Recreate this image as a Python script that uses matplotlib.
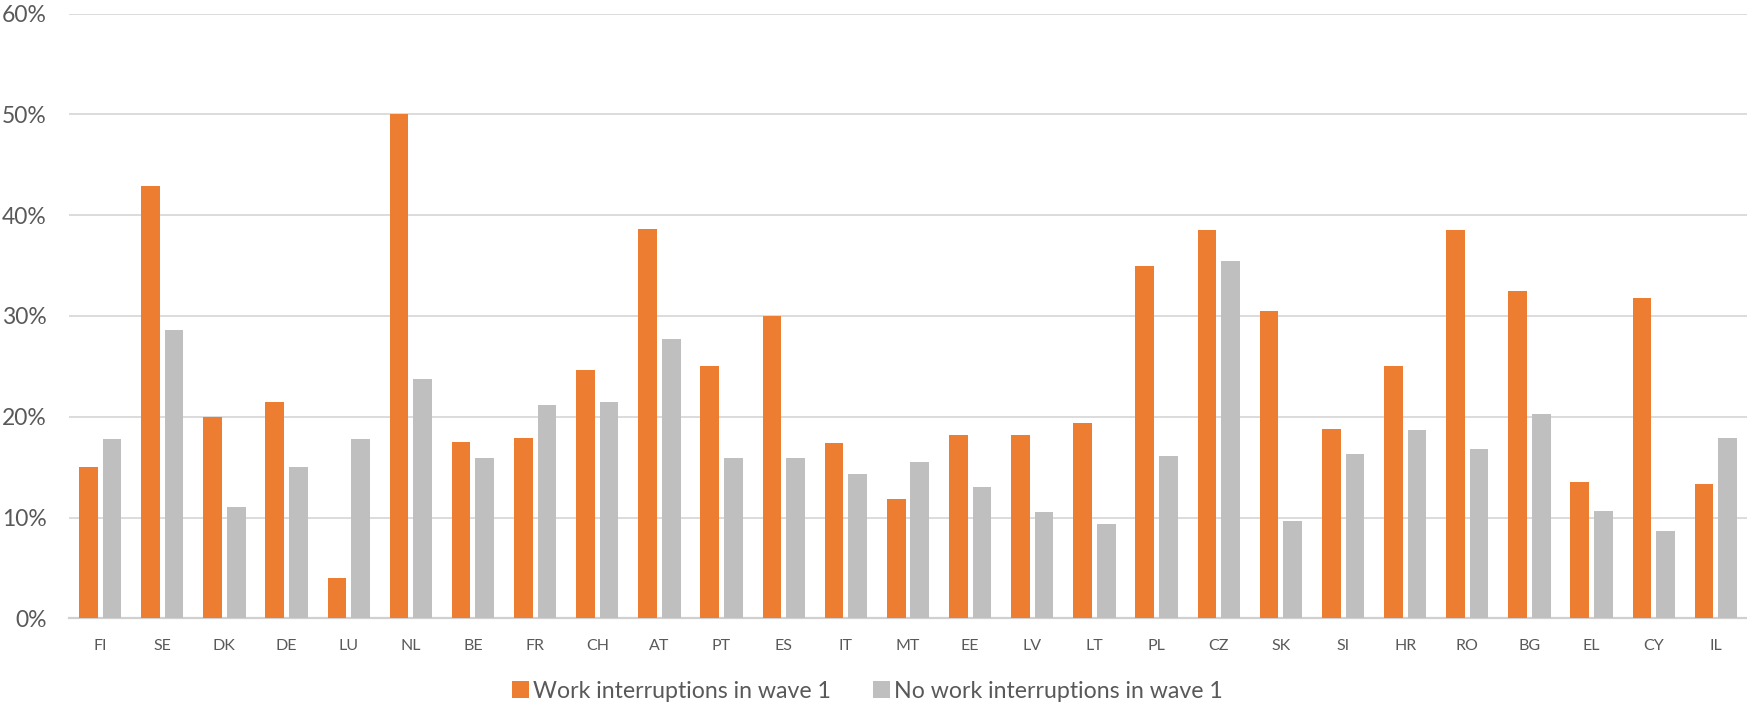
import matplotlib
matplotlib.use("Agg")
import matplotlib.pyplot as plt
import numpy as np
from matplotlib.patches import Patch
from matplotlib.ticker import PercentFormatter

plt.rcParams['font.family'] = ['Lato', 'DejaVu Sans']

countries = ["FI", "SE", "DK", "DE", "LU", "NL", "BE", "FR", "CH", "AT", "PT", "ES",
             "IT", "MT", "EE", "LV", "LT", "PL", "CZ", "SK", "SI", "HR", "RO", "BG",
             "EL", "CY", "IL"]
work_interrupted = [15.0, 42.9, 20.0, 21.5, 4.0, 50.0, 17.5, 17.9, 24.6, 38.6, 25.0, 30.0,
                    17.4, 11.8, 18.2, 18.2, 19.4, 35.0, 38.5, 30.5, 18.8, 25.0, 38.5, 32.5,
                    13.5, 31.8, 13.3]
no_work_interrupted = [17.8, 28.6, 11.0, 15.0, 17.8, 23.7, 15.9, 21.2, 21.5, 27.7, 15.9, 15.9,
                       14.3, 15.5, 13.0, 10.5, 9.4, 16.1, 35.5, 9.7, 16.3, 18.7, 16.8, 20.3,
                       10.6, 8.7, 17.9]
series_labels = ["Work interruptions in wave 1", "No work interruptions in wave 1"]

ORANGE = "#ED7D31"
GREY = "#BFBFBF"
TEXT = "#595959"
GRID = "#D9D9D9"

fig = plt.figure(figsize=(17.47, 7.05), dpi=100)
ax = fig.add_axes([69 / 1747, 1 - 618.3 / 705, 1 - 69 / 1747, (618.3 - 13.7) / 705])

x = np.arange(len(countries))
w = 0.30
off = 0.19
ax.bar(x - off, work_interrupted, width=w, color=ORANGE, zorder=3)
ax.bar(x + off, no_work_interrupted, width=w, color=GREY, zorder=3)

ax.set_xlim(-0.5, len(countries) - 0.5)
ax.set_ylim(0, 60)
ax.set_yticks(np.arange(0, 61, 10))
ax.yaxis.set_major_formatter(PercentFormatter(decimals=0))
ax.set_xticks(x)
ax.set_xticklabels(countries)

ax.grid(axis='y', color=GRID, linewidth=1.3, zorder=0)
ax.set_axisbelow(True)
for side in ("top", "right", "left"):
    ax.spines[side].set_visible(False)
ax.spines["bottom"].set_color("#D0D0D0")
ax.spines["bottom"].set_linewidth(1.6)

ax.tick_params(axis='y', length=0, pad=16, labelsize=16.5, labelcolor=TEXT)
ax.tick_params(axis='x', length=0, pad=15, labelsize=11.5, labelcolor=TEXT)

handles = [Patch(facecolor=ORANGE, edgecolor='none'), Patch(facecolor=GREY, edgecolor='none')]
fig.legend(handles, series_labels, loc='center left', bbox_to_anchor=(512 / 1747, 1 - 691 / 705),
           ncol=2, frameon=False, fontsize=16.7, labelcolor=TEXT,
           handlelength=0.72, handleheight=0.72, handletextpad=0.2, columnspacing=1.8,
           borderpad=0, borderaxespad=0)

fig.savefig("out.png", dpi=100, facecolor="white")
